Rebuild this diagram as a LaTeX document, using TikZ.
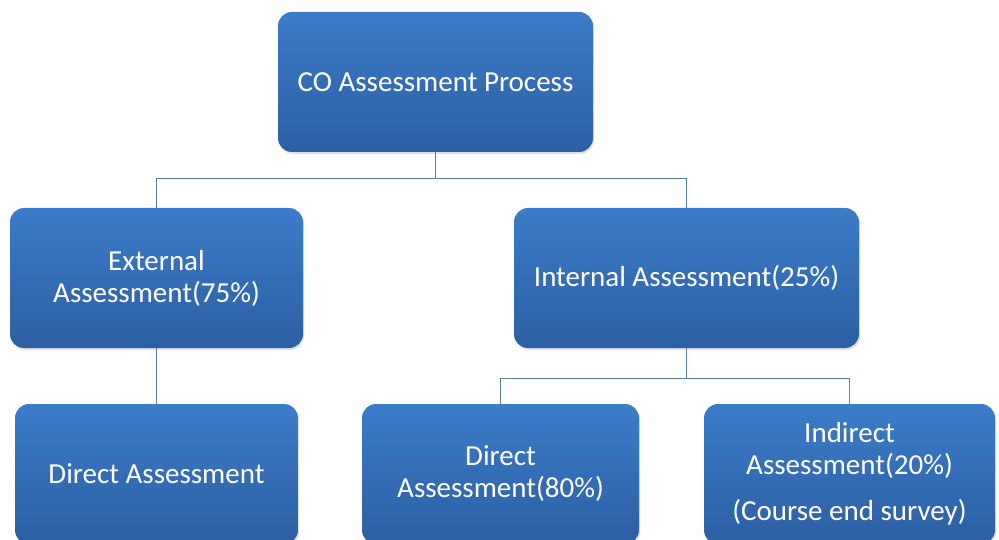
\documentclass[tikz,border=0pt]{standalone}
\usepackage{fontspec}
\setmainfont{Carlito}
\usetikzlibrary{calc,shadows}
\definecolor{boxtop}{HTML}{3C7CC9}
\definecolor{boxbot}{HTML}{2C5FA3}
\definecolor{linkcol}{HTML}{5A7FA6}
\tikzstyle{box} = [rounded corners=14pt, top color=boxtop, bottom color=boxbot, draw=none, text=white, align=center, minimum height=140pt, inner sep=2pt, font=\fontsize{29}{32}\selectfont, drop shadow={shadow xshift=1pt, shadow yshift=-2pt, opacity=0.25}]
\tikzstyle{link} = [draw=linkcol, line width=1.2pt]

\begin{document}
\begin{tikzpicture}[x=1pt, y=-1pt]
\useasboundingbox (0,0) rectangle (999,540);
\clip (0,0) rectangle (999,540);

% Define nodes
\node[box, minimum width=315pt] (co)  at (435.5,82)  {CO Assessment Process};
\node[box, minimum width=293pt] (ext) at (156.5,278) {External\\Assessment(75\%)};
\node[box, minimum width=345pt] (int) at (686.5,278) {Internal Assessment(25\%)};
\node[box, minimum width=283pt] (dir) at (156.5,474) {Direct Assessment};
\node[box, minimum width=277pt] (d80) at (500.5,474) {Direct\\Assessment(80\%)};
\node[box, minimum width=291pt] (ind) at (849.5,474) {Indirect\\Assessment(20\%)\\[14pt](Course end survey)};

\coordinate (j1) at ($(co.south)+(0,26)$);
\coordinate (j2) at ($(int.south)+(0,30)$);

% Edges
\draw[link] (co.south) -- (j1);
\draw[link] (ext.north) |- (j1) -| (int.north);
\draw[link] (ext.south) -- (dir.north);
\draw[link] (int.south) -- (j2);
\draw[link] (d80.north) |- (j2) -| (ind.north);
\end{tikzpicture}
\end{document}
